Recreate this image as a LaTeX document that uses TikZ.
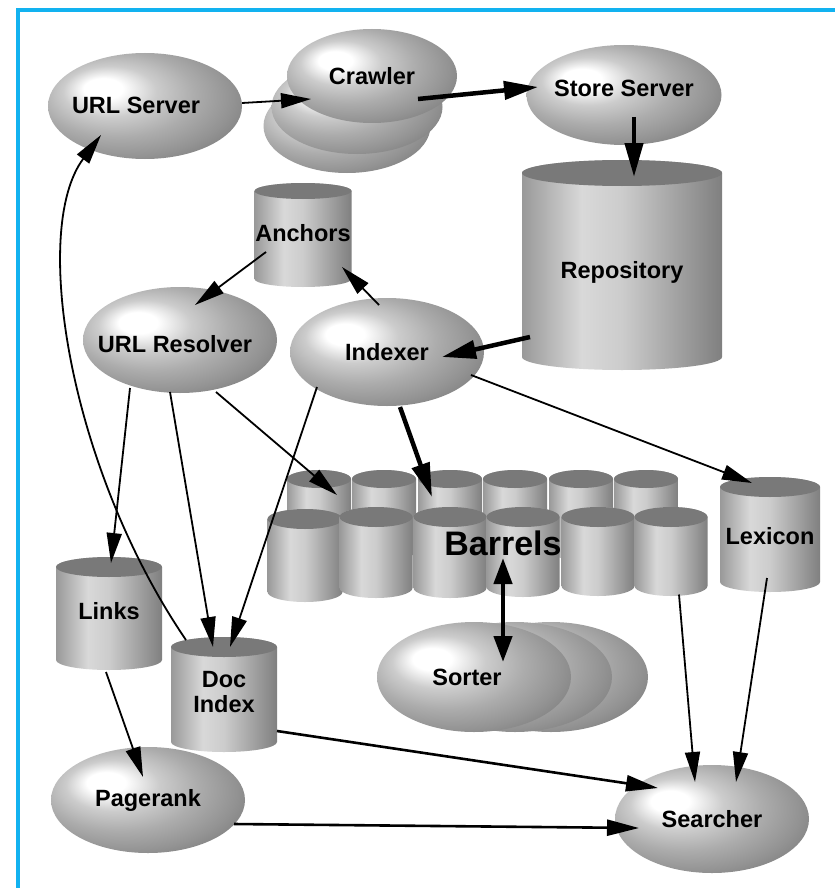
\documentclass[tikz,border=0pt]{standalone}
\usepackage{fontspec}
\setmainfont{Liberation Sans}
\usetikzlibrary{arrows.meta,shapes.geometric,calc}
\definecolor{frameblue}{HTML}{12B2F0}
\pgfdeclareradialshading{sph}{\pgfpoint{-12bp}{9bp}}{color(0bp)=(white); color(5bp)=(white); color(12bp)=(gray!40); color(20bp)=(gray!65); color(28bp)=(gray!85); color(40bp)=(gray!80!black); color(50bp)=(gray!70!black)}
\pgfdeclarehorizontalshading{cylsh}{100bp}{color(0bp)=(gray!80); color(25bp)=(gray!80); color(40bp)=(gray!30); color(50bp)=(gray!40); color(75bp)=(gray!100); color(100bp)=(gray!100)}
\colorlet{cyltopcol}{gray!95!black}
\newcommand\cylinder[8]{%
  \pgfmathsetmacro\cA{#2-#3/2}%
  \pgfmathsetmacro\cB{#2+#3/2}%
  \pgfmathsetmacro\yT{#4+#6}%
  \pgfmathsetmacro\yB{#5-#6}%
  \pgfmathsetmacro\rX{#3/2}%
  \pgfmathsetmacro\yM{(#4+#5)/2}%
  \pgfmathsetmacro\hH{#5-#4}%
  \shade[shading=cylsh] (\cA,\yT) -- (\cA,\yB) arc[start angle=180,end angle=360,x radius=\rX pt,y radius=#6pt] -- (\cB,\yT) arc[start angle=0,end angle=180,x radius=\rX pt,y radius=#6pt] -- cycle;
  \fill[cyltopcol] (#2,\yT) ellipse[x radius=\rX pt,y radius=#6pt];
  \node[lbl, minimum width=#3pt, minimum height=\hH pt, label={[lbl,yshift=#8pt]center:#7}] (#1) at (#2,\yM) {};
}
\tikzset{
  lbl/.style={font=\fontsize{23.5}{25}\selectfont\bfseries, align=center, inner sep=0pt},
  sphere/.style={ellipse, shade, shading=sph, inner sep=0pt, lbl},
  thinar/.style={line width=1.8pt, -{Triangle[length=30pt,width=15pt]}},
  medar/.style={line width=2.6pt, -{Triangle[length=32pt,width=16pt]}},
  thickar/.style={line width=4.5pt, -{Triangle[length=34pt,width=18pt]}},
  dblar/.style={line width=4.5pt, {Triangle[length=26pt,width=18pt]}-{Triangle[length=26pt,width=18pt]}},
}
\begin{document}
\begin{tikzpicture}[x=1pt,y=-1pt]
\useasboundingbox (0,0) rectangle (835,888);
\fill[white] (0,0) rectangle (835,888);
\draw[frameblue, line width=4pt] (18,888) -- (18,10) -- (835,10);

% Crawler stack
\node[sphere, minimum width=167pt, minimum height=94pt] (crawlerc) at (347,126) {};
\node[sphere, minimum width=171pt, minimum height=94pt] (crawlerb) at (357,107) {};
\node[sphere, minimum width=170pt, minimum height=94pt] (crawler) at (372,76) {Crawler};

\node[sphere, minimum width=194pt, minimum height=106pt, label={[lbl,xshift=-9pt,yshift=1pt]center:URL Server}] (urlsrv) at (145,106) {};
\node[sphere, minimum width=195pt, minimum height=100pt, label={[lbl,yshift=7pt]center:Store Server}] (storesrv) at (624,95) {};

% cylinders
\cylinder{repo}{622}{200}{160}{370}{13}{Repository}{-7}
\cylinder{anchors}{303}{97}{183}{287}{8}{Anchors}{2}
\cylinder{lexicon}{770}{100}{477}{592}{10}{Lexicon}{-2}
\cylinder{links}{109}{106}{557}{670}{10}{Links}{2}
\cylinder{docidx}{224}{106}{637}{752}{10}{Doc\\Index}{2}

\node[sphere, minimum width=194pt, minimum height=106pt, label={[lbl,xshift=-5pt,yshift=-4pt]center:URL Resolver}] (urlres) at (180,340) {};
\node[sphere, minimum width=194pt, minimum height=108pt] (indexer) at (387,352) {Indexer};

% barrels back row
\cylinder{bb1}{319}{64}{470}{560}{9}{}{0}
\cylinder{bb2}{384}{64}{470}{560}{9}{}{0}
\cylinder{bb3}{450}{64}{470}{560}{9}{}{0}
\cylinder{bb4}{515}{64}{470}{560}{9}{}{0}
\cylinder{bb5}{581}{64}{470}{560}{9}{}{0}
\cylinder{bb6}{646}{64}{470}{560}{9}{}{0}
% barrels front row
\cylinder{bf1}{305}{75}{509}{602}{10}{}{0}
\cylinder{bf2}{376}{73}{507}{598}{10}{}{0}
\cylinder{bf3}{450}{73}{507}{598}{10}{}{0}
\cylinder{bf4}{523}{73}{507}{597}{10}{}{0}
\cylinder{bf5}{598}{73}{507}{596}{10}{}{0}
\cylinder{bf6}{671}{73}{507}{596}{10}{}{0}
\node[font=\fontsize{34}{36}\selectfont\bfseries, inner sep=0pt] (barrels) at (503,543) {Barrels};

% sorter stack
\node[sphere, minimum width=194pt, minimum height=110pt] (sorterc) at (551,677) {};
\node[sphere, minimum width=194pt, minimum height=110pt] (sorterb) at (515,677) {};
\node[sphere, minimum width=194pt, minimum height=110pt, label={[lbl,xshift=-7pt]center:Sorter}] (sorter) at (474,677) {};

\node[sphere, minimum width=194pt, minimum height=106pt] (pagerank) at (148,800) {Pagerank};
\node[sphere, minimum width=194pt, minimum height=108pt] (searcher) at (712,819) {Searcher};

% connectors
\draw[thinar] ($(urlsrv)+(97,-3)$) -- ($(crawler)+(-61,23)$);
\draw[thickar] ($(crawler)+(46,23)$) -- ($(storesrv)+(-86,-8)$);
\draw[thickar] ($(storesrv)+(10,22)$) -- ($(repo)+(12,-88)$);
\draw[thickar] ($(repo)+(-92,72)$) -- ($(indexer)+(55,5)$);
\draw[thinar] ($(indexer)+(-8,-47)$) -- ($(anchors)+(39,32)$);
\draw[thinar] ($(anchors)+(-37,17)$) -- ($(urlres)+(15,-35)$);
\draw[thinar] ($(urlres)+(-50,48)$) -- ($(links)+(2,-50.5)$);
\draw[thinar] ($(urlres)+(-10,52)$) -- ($(docidx)+(-11,-47.5)$);
\draw[thinar] ($(urlres)+(36,52)$) -- ($(bb1)+(18,-20)$);
\draw[thinar] ($(indexer)+(-70,35)$) -- ($(docidx)+(6,-47.5)$);
\draw[thickar] ($(indexer)+(13,55)$) -- ($(bb3)+(-18,-18)$);
\draw[thinar] ($(indexer)+(84,23)$) -- ($(lexicon)+(-18,-51.5)$);
\draw[thinar] ($(docidx)+(-38,-54.5)$) .. controls (70,470) and (30,230) .. ($(urlsrv)+(-44,29)$);
\draw[thinar] ($(links)+(-3,58.5)$) -- ($(pagerank)+(-5,-23)$);
\draw[medar] ($(docidx)+(53,36.5)$) -- ($(searcher)+(-54,-31)$);
\draw[medar] ($(pagerank)+(86,24)$) -- ($(searcher)+(-73,9)$);
\draw[thinar] ($(bf6)+(8,43)$) -- ($(searcher)+(-17,-37)$);
\draw[thinar] ($(lexicon)+(-3,43.5)$) -- ($(searcher)+(24,-37)$);
\draw[dblar] ($(barrels)+(0,15)$) -- ($(sorter)+(29,-15)$);
\end{tikzpicture}
\end{document}
